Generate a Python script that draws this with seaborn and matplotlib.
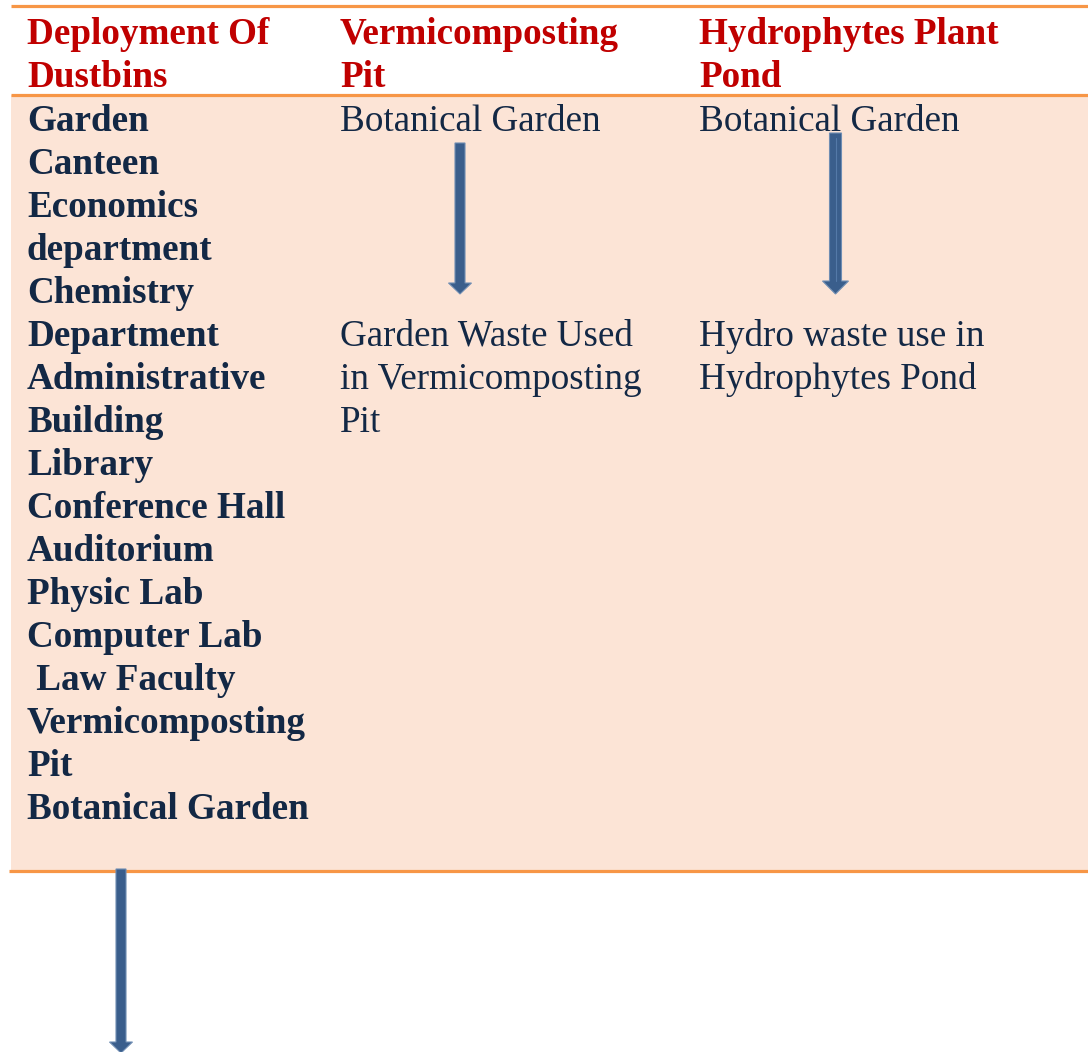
import seaborn as sns
import matplotlib.pyplot as plt
from matplotlib.patches import Rectangle

# Table content
headers = [["Deployment Of", "Dustbins"],
           ["Vermicomposting", "Pit"],
           ["Hydrophytes Plant", "Pond"]]

dustbin_places = ["Garden", "Canteen", "Economics", "department", "Chemistry",
                  "Department", "Administrative", "Building", "Library",
                  "Conference Hall", "Auditorium", "Physic Lab", "Computer Lab",
                  " Law Faculty", "Vermicomposting", "Pit", "Botanical Garden"]

vermi_source = ["Botanical Garden"]
vermi_result = ["Garden Waste Used", "in Vermicomposting", "Pit"]

hydro_source = ["Botanical Garden"]
hydro_result = ["Hydro waste use in", "Hydrophytes Pond"]

sns.set_theme(style="white")
plt.rcParams['font.family'] = ['Liberation Serif', 'DejaVu Serif']

W, H = 1088, 1052
fig = plt.figure(figsize=(W / 100, H / 100), dpi=100)
ax = fig.add_axes([0, 0, 1, 1])
ax.set_xlim(0, W)
ax.set_ylim(H, 0)
ax.axis('off')

orange = '#F79646'
peach = '#FCE4D6'
red = '#C00000'
navy = '#132845'
arrow_col = '#3A5E8C'
fs = 26.7

# body background and rules
ax.add_patch(Rectangle((11, 95), W - 11, 776, facecolor=peach, edgecolor='none', zorder=0))
ax.plot([11, W], [6, 6], color=orange, lw=2.3, solid_capstyle='butt')
ax.plot([11, W], [95, 95], color=orange, lw=2.3, solid_capstyle='butt')
ax.plot([9, W], [871, 871], color=orange, lw=2.3, solid_capstyle='butt')

col_x = [27, 340, 699]
line_h = 43

for x, head in zip(col_x, headers):
    for i, t in enumerate(head):
        ax.text(x, 44 + i * line_h, t, color=red, fontsize=fs, fontweight='bold',
                va='baseline', ha='left')

body0 = 131
for i, t in enumerate(dustbin_places):
    ax.text(col_x[0], body0 + i * line_h, t, color=navy, fontsize=fs,
            fontweight='bold', va='baseline', ha='left')

def col_text(x, lines, start_row):
    for i, t in enumerate(lines):
        ax.text(x, body0 + (start_row + i) * line_h, t, color=navy, fontsize=fs,
                va='baseline', ha='left')

col_text(col_x[1], vermi_source, 0)
col_text(col_x[1], vermi_result, 5)
col_text(col_x[2], hydro_source, 0)
col_text(col_x[2], hydro_result, 5)

# arrows
def down_arrow(xc, y0, y1, w, hw, hl):
    ax.arrow(xc, y0, 0, y1 - y0, width=w, head_width=hw, head_length=hl,
             length_includes_head=True, facecolor=arrow_col, edgecolor='#6F8DB3',
             linewidth=0.8, zorder=3)

down_arrow(460, 143, 294, 10, 23, 11)
down_arrow(835.5, 133, 294, 12, 26, 13)
ax.plot([835.5, 835.5], [138, 281], color='#5479A8', lw=0.8, zorder=4)
down_arrow(121, 869, 1053, 10, 23, 11)

fig.savefig('out.png', dpi=100)
